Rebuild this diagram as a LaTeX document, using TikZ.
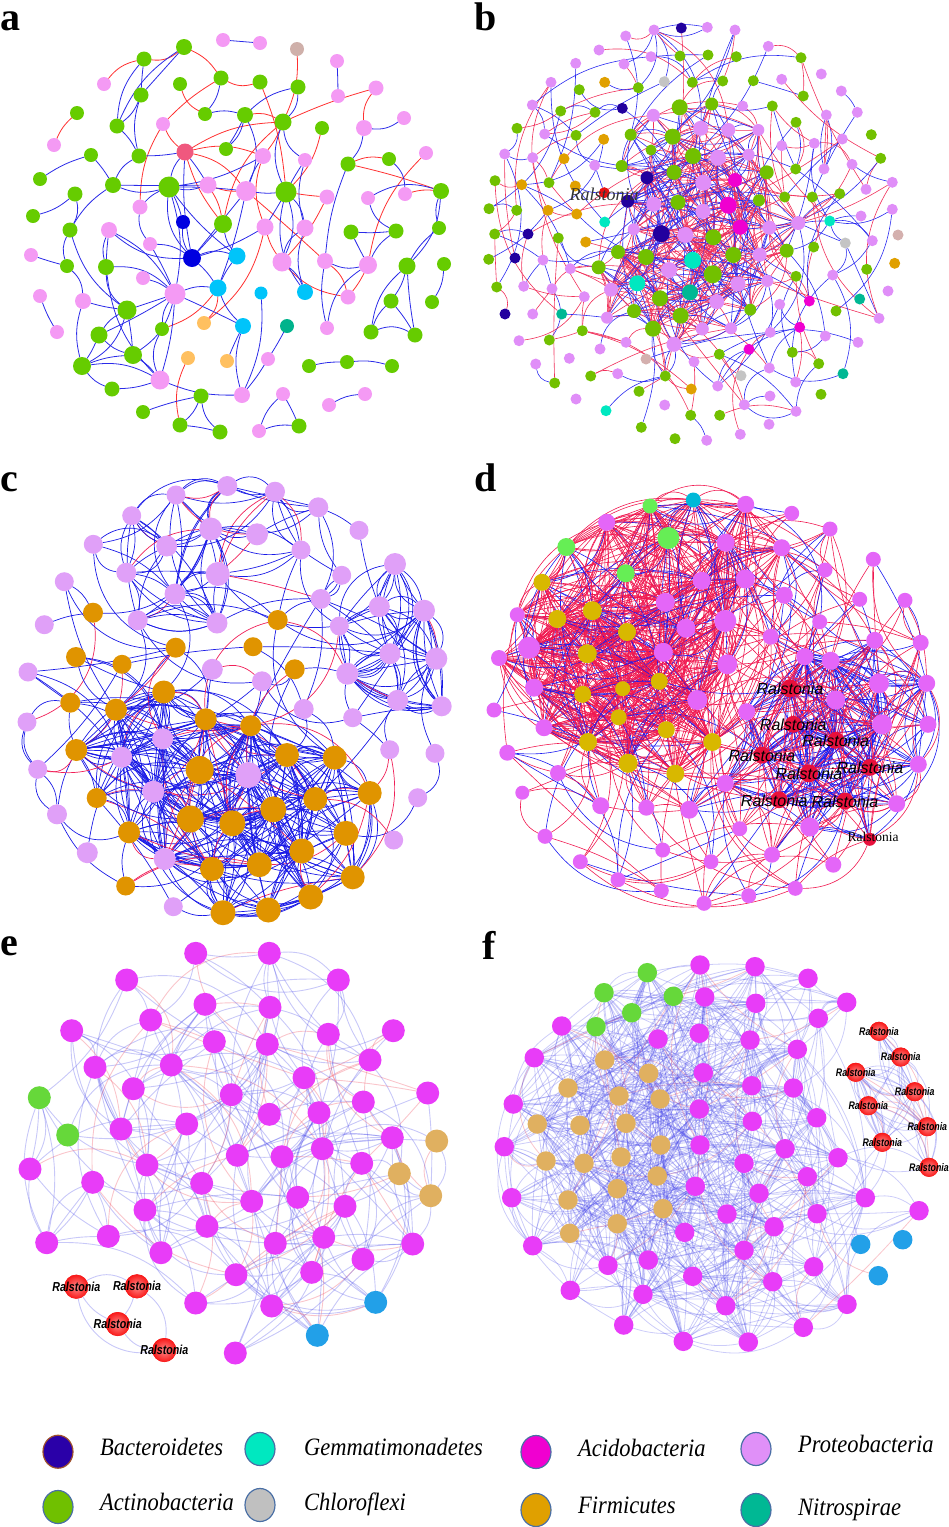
\documentclass[tikz,border=0pt]{standalone}
\usepackage{fontspec}
\usepackage{graphicx}
\setmainfont{Liberation Serif}
\newfontfamily\lsans{Liberation Sans}
\usetikzlibrary{shapes.geometric}
\pgfdeclarelayer{background}
\pgfsetlayers{background,main}
% panel a
\definecolor{aG}{HTML}{66CC00}\definecolor{aP}{HTML}{F49AF4}\definecolor{aR}{HTML}{F0587E}
\definecolor{aT}{HTML}{CFB0AA}\definecolor{aD}{HTML}{0000E0}\definecolor{aC}{HTML}{00C4FA}
\definecolor{aO}{HTML}{FFC060}\definecolor{aN}{HTML}{00B38C}
\definecolor{ar}{HTML}{FF3030}\definecolor{ab}{HTML}{2A2AE8}
% panel b
\definecolor{bG}{HTML}{72C000}\definecolor{bL}{HTML}{E08EF8}\definecolor{bI}{HTML}{22009E}
\definecolor{bO}{HTML}{E0A000}\definecolor{bY}{HTML}{C4C4C4}\definecolor{bC}{HTML}{00E8C0}
\definecolor{bM}{HTML}{F000D0}\definecolor{bN}{HTML}{00B894}\definecolor{bT}{HTML}{D4B0AE}
\definecolor{bR}{HTML}{E81010}
\definecolor{bRe}{HTML}{F0305A}\definecolor{bBe}{HTML}{2A2AF0}
% panel c
\definecolor{cL}{HTML}{E0A0F8}\definecolor{cO}{HTML}{E09400}
\definecolor{cRe}{HTML}{F02058}\definecolor{cBe}{HTML}{1A1AE6}
% panel d
\definecolor{dV}{HTML}{E466F8}\definecolor{dG}{HTML}{66EE55}\definecolor{dC}{HTML}{00B8D8}
\definecolor{dY}{HTML}{D8B800}\definecolor{dR}{HTML}{E8103C}
\definecolor{dRe}{HTML}{F01850}\definecolor{dBe}{HTML}{1A1AF0}
% panels e f
\definecolor{eM}{HTML}{E83CF8}\definecolor{eG}{HTML}{66D83A}\definecolor{eT}{HTML}{E0B060}
\definecolor{eB}{HTML}{22A0E8}\definecolor{eRc}{HTML}{F81818}\definecolor{eRi}{HTML}{FF8A8A}
\definecolor{eRe}{HTML}{F05A6A}\definecolor{eBe}{HTML}{4848E8}
% legend
\definecolor{lBac}{HTML}{2A00A8}\definecolor{lGem}{HTML}{00E8C0}\definecolor{lAci}{HTML}{F000D0}
\definecolor{lPro}{HTML}{E090F8}\definecolor{lAct}{HTML}{70C000}\definecolor{lChl}{HTML}{C0C0C0}
\definecolor{lFir}{HTML}{E0A000}\definecolor{lNit}{HTML}{00B894}\definecolor{lBor}{HTML}{4A6FA5}
\definecolor{lBrn}{HTML}{A0522D}

\newcount\ndc
\newdimen\rdx \newdimen\rdy
\newcommand\placenodes[2]{%
  \foreach \x/\y/\cc/\sz in {#2}{%
    \global\advance\ndc by 1\relax
    \edef\nn{#1\the\ndc}%
    \node[nd,fill=\cc,minimum size=\sz] (\nn) at (\x,\y) {};
  }}
\newcommand\placeuni[3]{%
  \foreach \x/\y/\cc in {#3}{%
    \global\advance\ndc by 1\relax
    \edef\nn{#1\the\ndc}%
    \node[nd,fill=\cc,minimum size=#2] (\nn) at (\x,\y) {};
  }}
\makeatletter
\newcommand\randedges[7]{%
  \foreach \k in {1,...,#4}{%
    \pgfmathrandominteger{\ii}{#2}{#3}%
    \pgfmathrandominteger{\jj}{#2}{#3}%
    \ifnum\ii=\jj\relax\else
      \pgfpointdiff{\pgfpointanchor{#1\ii}{center}}{\pgfpointanchor{#1\jj}{center}}%
      \global\rdx=\pgf@x\relax \global\rdy=\pgf@y\relax
      \pgfmathveclen{\rdx}{\rdy}%
      \ifdim\pgfmathresult pt<#5pt\relax
        \pgfmathrandominteger{\rr}{0}{99}%
        \pgfmathrandominteger{\bb}{-#7}{#7}%
        \ifnum\rr<#6\relax
          \draw[#1red] (#1\ii) to[bend left=\bb] (#1\jj);%
        \else
          \draw[#1blue] (#1\ii) to[bend left=\bb] (#1\jj);%
        \fi
      \fi
    \fi
  }}
\makeatother

\tikzset{
  nd/.style={circle, inner sep=0pt, outer sep=0pt, draw=none},
  aedge/.style={line width=0.8pt},
  bred/.style={draw=bRe, line width=0.6pt},
  bblue/.style={draw=bBe, line width=0.6pt},
  cred/.style={draw=cRe, line width=0.7pt},
  cblue/.style={draw=cBe, line width=0.7pt},
  dred/.style={draw=dRe, line width=0.6pt},
  dblue/.style={draw=dBe, line width=0.6pt},
  ered/.style={draw=eRe, line width=0.9pt, draw opacity=0.35},
  eblue/.style={draw=eBe, line width=0.9pt, draw opacity=0.3},
  fred/.style={draw=eRe, line width=0.8pt, draw opacity=0.35},
  fblue/.style={draw=eBe, line width=0.8pt, draw opacity=0.28},
  rball/.style={circle, inner sep=0pt, shading=radial, inner color=eRi, outer color=eRc},
  plab/.style={anchor=base west, inner sep=0pt, font=\fontsize{40}{40}\selectfont\bfseries},
  legtext/.style={anchor=base west, inner sep=0pt, font=\fontsize{25}{25}\selectfont\itshape},
  legdot/.style={ellipse, minimum width=30pt, minimum height=33pt, inner sep=0pt, draw=lBor, line width=1.2pt},
  ralb/.style={inner sep=0pt, font=\fontsize{18}{18}\selectfont\itshape, text=black!80},
  rald/.style={inner sep=0pt, font=\lsans\fontsize{16}{16}\selectfont\itshape},
  ralds/.style={inner sep=0pt, font=\fontsize{13.5}{13.5}\selectfont},
  rale/.style={inner sep=0pt, font=\lsans\fontsize{13}{13}\selectfont\bfseries\itshape},
  ralf/.style={inner sep=0pt, font=\lsans\fontsize{11}{11}\selectfont\bfseries\itshape},
}

\begin{document}
\begin{tikzpicture}[x=1pt,y=-1pt]
\useasboundingbox (0,0) rectangle (949,1527);
\pgfmathsetseed{4242}

%================ PANEL A ================
\global\ndc=0
\placenodes{a}{184/47/aG/16, 223/40/aP/14, 260/43/aP/14, 297/49/aT/14, 144/59/aG/15, 337/61/aP/14,
 104/84/aP/14, 180/84/aG/14, 221/78/aG/15, 260/82/aG/15, 298/87/aG/15, 338/96/aP/14, 376/88/aP/15,
 141/95/aG/15, 77/113/aG/14, 117/126/aG/15, 163/124/aP/14, 205/114/aG/14, 245/115/aG/16, 283/122/aG/17,
 322/128/aG/14, 364/128/aP/16, 404/118/aP/14, 54/145/aP/14, 91/155/aG/14, 139/156/aG/15, 185/152/aR/17,
 226/149/aG/14, 263/156/aP/16, 305/160/aP/14, 348/164/aG/15, 389/159/aG/14, 426/153/aP/14, 40/179/aG/14,
 113/185/aG/16, 169/187/aG/21, 208/185/aP/17, 246/191/aP/20, 286/192/aG/21, 327/197/aP/15, 368/198/aP/14,
 405/194/aP/14, 441/191/aG/16, 75/194/aG/15, 33/216/aG/14, 140/207/aP/15, 183/222/aD/14, 223/224/aG/18,
 265/227/aP/17, 305/228/aP/17, 351/232/aG/15, 396/231/aG/15, 439/228/aG/14, 70/230/aG/15, 109/230/aP/16,
 150/244/aP/14, 192/258/aD/18, 237/256/aC/17, 282/262/aP/19, 325/261/aP/16, 368/265/aP/18, 407/266/aG/17,
 444/264/aG/14, 31/255/aP/14, 67/266/aG/14, 106/267/aG/16, 143/278/aP/14, 175/294/aP/21, 218/288/aC/17,
 261/293/aC/13, 305/292/aC/16, 348/297/aP/15, 391/301/aG/15, 432/302/aG/14, 40/296/aP/14, 83/301/aP/16,
 127/310/aG/19, 162/329/aG/14, 204/323/aO/14, 243/326/aC/16, 287/326/aN/14, 327/328/aP/14, 371/332/aG/15,
 415/335/aG/15, 57/332/aP/14, 99/335/aG/17, 133/355/aG/18, 188/358/aO/14, 227/361/aO/14, 268/359/aP/14,
 309/366/aG/14, 347/362/aG/14, 392/366/aG/14, 82/366/aG/18, 160/380/aP/19, 112/389/aG/15, 242/395/aP/16,
 283/394/aP/14, 365/394/aP/14, 329/405/aP/14, 201/396/aG/15, 143/412/aG/14, 180/425/aG/15, 220/432/aG/15,
 259/431/aP/14, 299/426/aG/15}
\begin{pgfonlayer}{background}
\foreach \i/\j/\t in {5/1/ar,7/5/ar,15/24/ar,1/9/ar,9/10/ar,4/20/ar,13/20/ar,13/22/ar,17/9/ar,27/29/ar,
 27/38/ar,27/48/ar,27/20/ar,10/39/ar,20/48/ar,21/39/ar,33/61/ar,31/32/ar,42/43/ar,31/43/ar,39/40/ar,
 40/59/ar,38/60/ar,59/72/ar,60/72/ar,69/79/ar,78/69/ar,88/103/ar,37/48/ar,61/72/ar,49/59/ar,17/46/ar,
 8/18/ar,27/17/ar,29/49/ar,79/49/ar,37/38/ar,20/29/ar,19/20/ar,
 2/3/ab,6/12/ab,34/25/ab,45/44/ab,5/16/ab,5/14/ab,1/16/ab,1/14/ab,14/16/ab,14/26/ab,16/26/ab,26/27/ab,
 9/18/ab,18/19/ab,19/11/ab,19/28/ab,19/38/ab,22/23/ab,22/31/ab,26/35/ab,35/36/ab,35/54/ab,35/37/ab,
 36/37/ab,36/47/ab,36/57/ab,36/58/ab,36/68/ab,36/46/ab,27/36/ab,27/37/ab,27/57/ab,29/38/ab,29/36/ab,
 38/39/ab,38/57/ab,38/69/ab,39/49/ab,39/50/ab,39/59/ab,30/50/ab,31/60/ab,51/52/ab,51/61/ab,52/61/ab,
 41/52/ab,43/62/ab,53/62/ab,62/73/ab,62/83/ab,62/84/ab,73/83/ab,73/84/ab,83/84/ab,63/74/ab,50/59/ab,
 50/71/ab,59/71/ab,60/61/ab,60/82/ab,61/82/ab,54/65/ab,54/77/ab,55/57/ab,55/66/ab,56/57/ab,55/68/ab,
 56/68/ab,64/65/ab,66/77/ab,66/68/ab,66/95/ab,67/68/ab,68/69/ab,68/77/ab,68/86/ab,68/87/ab,68/95/ab,
 68/80/ab,75/85/ab,76/77/ab,76/94/ab,77/86/ab,77/87/ab,77/94/ab,86/94/ab,87/94/ab,86/87/ab,87/95/ab,
 94/96/ab,94/95/ab,96/95/ab,57/69/ab,57/58/ab,58/69/ab,69/80/ab,80/97/ab,80/89/ab,81/90/ab,90/97/ab,
 91/92/ab,92/93/ab,99/100/ab,98/105/ab,98/106/ab,105/106/ab,101/102/ab,101/103/ab,101/104/ab,103/104/ab,
 95/97/ab,70/97/ab,57/48/ab,47/57/ab,28/19/ab,20/39/ab,39/71/ab,49/57/ab,48/58/ab,32/42/ab,41/43/ab,
 53/43/ab,35/25/ab,44/54/ab,65/76/ab,66/55/ab,78/68/ab,78/95/ab,36/38/ab,46/56/ab,20/30/ab,30/39/ab,11/20/ab}{
  \pgfmathtruncatemacro\bb{mod(\i*37+\j*17,50)-25}
  \draw[aedge,draw=\t] (a\i) to[bend left=\bb] (a\j);
}
\end{pgfonlayer}

%================ PANEL B ================
\global\ndc=0
\placenodes{b}{679.7/107.3/bG/16, 711.7/104/bG/13, 653.3/115.3/bL/13, 672.7/136.7/bG/16, 700.7/128.3/bL/15,
 728.3/130/bL/14, 758.3/130/bL/12, 693/156/bG/16, 718/157.7/bL/16, 748.7/154.7/bL/12, 674/172.3/bG/15,
 703.3/182.7/bL/16, 735/180/bM/14, 766.7/172.3/bG/14, 647/177.7/bI/13, 627.7/201.3/bI/13, 653.7/204.3/bL/15,
 678/202.3/bG/15, 703/211.3/bL/15, 728.3/205.3/bM/17, 759/200.3/bG/12, 633.7/229.3/bL/12, 661.3/233.7/bI/17,
 685.3/235/bL/16, 713.3/237.3/bG/16, 740.3/227.3/bM/15, 769.3/227.7/bL/14, 618/252/bG/14, 646/257/bG/16,
 692.7/260.3/bC/17, 669/270/bL/16, 712.7/274.3/bG/18, 733.3/255/bG/16, 759.7/254.7/bL/14, 786.7/250.7/bG/14,
 611/289.7/bL/14, 637.3/283.3/bC/16, 660/298.3/bG/16, 690/292.3/bN/16, 716.7/301.7/bL/15, 738/284/bL/15,
 767.3/281/bL/12, 598.7/267.3/bG/14, 634/311/bG/14, 653/328.7/bG/16, 680.7/315.7/bG/16, 702.3/329/bL/13,
 674/344.3/bL/15, 607/317.7/bL/12, 731/328.3/bL/12, 750.3/309.7/bG/12, 798.3/223/bL/14, 651/150/bG/11,
 630.7/134.7/bG/12, 621.7/166/bG/12}
\xdef\bK{\the\ndc}
\placeuni{b}{11}{681.3/28/bI, 707.3/27.3/bL, 735/30/bL, 654/30/bL, 625.7/36/bL, 599/50/bL, 768.3/46.3/bL,
 680/56/bG, 708/55/bG, 736.3/56.7/bG, 651/56.7/bL, 624/64/bL, 575.7/63.3/bL, 801/57.7/bG, 821.3/74/bL,
 551/82.3/bL, 579.3/89.7/bG, 604.7/82.3/bO, 638.3/87.7/bG, 664.3/81.7/bY, 692.3/82.3/bG, 722.7/81/bG,
 753.3/80.7/bG, 781.7/79.3/bL, 841.3/91/bL, 803.3/96/bG, 532.3/105/bL, 560.7/111/bG, 595/112.3/bG,
 622.3/108.3/bI, 742.7/106/bL, 772.3/106/bG, 826.3/115/bL, 857.3/112.3/bL, 796/122.3/bG, 517/128.3/bG,
 544.7/134/bL, 576/135.3/bG, 603.7/139.3/bO, 781.7/145.7/bL, 814.3/143.3/bL, 842.3/139/bL, 871.3/134.7/bG,
 504.7/154/bL, 532.7/157.7/bL, 564/158.7/bO, 594.7/165.3/bL, 795.7/169/bG, 824/169/bL, 852/164.3/bL,
 880.7/158.3/bG, 495/180.7/bG, 521.7/184.7/bO, 549/182.7/bG, 575.3/186/bO, 604.3/192.7/bR, 866/189.3/bL,
 892.3/182.3/bL, 489/208.7/bG, 516.7/210.3/bG, 548/210.3/bO, 576.7/214/bO, 784.7/197/bG, 812.3/197/bG,
 839.7/193.7/bG, 861/216/bL, 892.3/209.3/bL, 494.7/234/bG, 528/234/bI, 558.3/238/bG, 585.7/242/bO,
 604.7/222/bC, 829.7/221/bC, 845.3/243/bY, 872.3/240.7/bL, 898/235/bT, 488.7/259.3/bG, 515/258/bI,
 543/260/bL, 570.3/268.7/bL, 813.7/247/bG, 894.7/263.3/bO, 866.7/269.3/bG, 496.7/287/bG, 523.7/286.3/bL,
 552/288.7/bL, 584.3/296.7/bL, 796/276.3/bG, 832.7/275/bL, 809.3/301/bM, 859.7/299/bN, 888/291/bL,
 505/314/bI, 532.7/314/bL, 561.7/314/bN, 779.7/304.3/bL, 770.3/332.3/bL, 836/311/bG, 799.7/327.3/bM,
 879/318.3/bL, 825.3/336/bL, 519/340.7/bL, 549.3/340/bG, 582.3/330.7/bG, 600/349/bL, 626/342.3/bL,
 646/359/bT, 719.3/354.3/bG, 749/349.3/bM, 792.3/352.3/bG, 858/342.3/bL, 569.3/358.3/bL, 535.7/364/bL,
 554.7/383/bG, 590.7/376/bG, 617.7/373.7/bL, 665.3/376/bG, 694/361.7/bL, 741/375.7/bY, 769.3/368/bL,
 717.7/386/bL, 795.7/382/bL, 818.7/363.7/bG, 843/373.7/bN, 576/399/bL, 606/410.7/bC, 639/391.3/bG,
 664.7/405/bL, 691.3/389/bO, 690.7/415.3/bG, 719.7/415.3/bG, 744.3/404.7/bL, 770/396/bL, 796/411.3/bL,
 821/394.3/bG, 641.3/427.3/bG, 675/438.7/bG, 706.7/440.3/bL, 740.3/434.3/bL, 769/424.3/bL}
\xdef\bN{\the\ndc}
\begin{pgfonlayer}{background}
\randedges{b}{1}{\bK}{750}{115}{62}{30}
\randedges{b}{1}{\bN}{2500}{55}{45}{35}
\randedges{b}{1}{\bN}{450}{150}{50}{30}
\end{pgfonlayer}
\node[ralb] (ralB) at (604,194) {Ralstonia};

%================ PANEL C ================
\global\ndc=0
\placenodes{c}{199.7/770/cO/28, 248.3/775/cL/26, 287/755/cO/24, 334.7/757.7/cO/24, 369.7/793/cO/24,
 315.3/799/cO/24, 273.3/809.3/cO/26, 232.3/823.3/cO/26, 190.3/819/cO/27, 346/833.3/cO/25, 301.7/851/cO/25,
 259.3/864.7/cO/25, 212/869/cO/24, 352.7/877.3/cO/24, 310.7/897/cO/25, 268.3/910/cO/25, 223/912.7/cO/25,
 250.7/725.7/cO/21, 205.7/719.3/cO/22, 153.3/791.7/cL/22, 129/832.3/cO/22, 164.7/859/cL/22,
 162.7/738.7/cL/21, 121.7/757.3/cL/21, 76.3/750/cO/22, 163.7/692/cO/23, 96.7/798/cO/20, 116/709.7/cO/22}
\xdef\cA{\the\ndc}
\placenodes{c}{227.3/486/cL/20, 275/491.7/cL/20, 176/495/cL/19, 318.3/507.3/cL/20, 131.7/515.7/cL/19,
 210.7/529/cL/23, 257/534.3/cL/22, 93.3/544.3/cL/19, 166.7/546/cL/21, 301/550/cL/19, 126.3/572.7/cL/20,
 217.7/574/cL/24, 175/594/cL/21, 137.7/620.3/cL/20, 217/623/cL/21, 64.3/581.7/cL/19, 341.7/575.3/cL/19,
 320.7/599/cL/20}
\xdef\cB{\the\ndc}
\placenodes{c}{395/564/cL/22, 379.3/606.7/cL/21, 424/610.7/cL/22, 390/653.7/cL/21, 436.3/658.7/cL/22,
 347.3/673.7/cL/22, 397.7/700.3/cL/21, 441.7/706.3/cL/20, 339.3/626/cL/19}
\xdef\cC{\the\ndc}
\placenodes{c}{359/530.3/cL/19, 93/612.7/cO/20, 277.7/620/cO/20, 44.3/624.7/cL/19, 175.7/647.7/cO/20,
 253/646.7/cO/19, 76/657/cO/20, 122/664.3/cO/19, 212.3/669.3/cL/21, 294.7/669.3/cO/20, 262/681.3/cL/20,
 28/672/cL/19, 70.3/702.7/cO/20, 303.7/709/cL/20, 352.7/717.7/cL/19, 27/722/cL/19, 389.7/749.7/cL/19,
 435/753.3/cL/19, 37.7/769.3/cL/19, 417.7/797.7/cL/19, 57/814.3/cL/20, 393.7/840/cL/19, 87.3/852.7/cL/21,
 125.7/886/cO/19, 173.3/906.7/cL/19}
\xdef\cN{\the\ndc}
\pgfmathtruncatemacro\cAp{\cA+1}
\pgfmathtruncatemacro\cBp{\cB+1}
\begin{pgfonlayer}{background}
\randedges{c}{1}{\cA}{600}{140}{10}{40}
\randedges{c}{\cAp}{\cB}{130}{120}{8}{40}
\randedges{c}{\cBp}{\cC}{75}{100}{0}{40}
\randedges{c}{1}{\cN}{380}{150}{15}{40}
\randedges{c}{1}{\cN}{500}{58}{10}{35}
\end{pgfonlayer}

%================ PANEL D ================
\global\ndc=0
\placenodes{d}{650/506/dG/15, 693.3/500/dC/15, 745.7/504.3/dV/17, 606.7/522.3/dV/17, 668.3/538/dG/22,
 725.7/542.7/dV/18, 781.7/547.7/dV/17, 566.3/547/dG/18, 625.7/573.3/dG/18, 542/582.3/dY/17,
 701.7/580.7/dV/18, 745.3/579/dV/19, 665.3/602.3/dV/19, 557.3/619/dY/18, 592.3/610.7/dY/19,
 686/628.3/dV/19, 725.3/621/dV/22, 627/632/dY/18, 529/647.7/dV/22, 587.3/653.7/dY/19, 663.3/652.3/dV/19,
 727.3/664.3/dV/20, 659.3/681.3/dY/17, 622.7/688.7/dY/15, 534/687.7/dV/18, 582.7/694.3/dY/17,
 697.3/700/dV/20, 618.7/717.3/dY/16, 666.3/729.7/dY/17, 588/742/dY/18, 628/763.3/dY/19, 675.3/773.7/dY/18,
 712.3/742/dY/18, 544/727.7/dV/17, 517.3/614.7/dV/15, 499/658/dV/16}
\xdef\dA{\the\ndc}
\placenodes{d}{790/688.3/dR/18, 793.3/724.3/dR/17, 835.7/740.3/dR/17, 762/755/dR/17, 870/767.3/dR/17,
 809/773.3/dR/18, 779/799.7/dR/17, 845/801/dR/17, 746.7/711.7/dV/17, 835.7/700/dV/19, 879/683.3/dV/20,
 882/724.3/dV/20, 804.7/656.7/dV/17, 830.7/660.7/dV/18, 874.7/640.3/dV/17, 926.7/683.3/dV/17,
 928/724.3/dV/17, 918.3/764.3/dV/17, 896.7/803.7/dV/17, 809.7/827/dV/19, 725.3/783.3/dV/17, 869.7/839.3/dR/13}
\xdef\dB{\the\ndc}
\placenodes{d}{791.7/513.3/dV/15, 830/529/dV/15, 825/570/dV/15, 873.3/559.3/dV/15, 784.3/595.3/dV/17,
 859.7/599.3/dV/15, 905/600.3/dV/15, 819.7/621.7/dV/15, 770.7/636.7/dV/16, 920.7/642.7/dV/16, 494/710/dV/15,
 507.3/752.7/dV/16, 558/773/dV/16, 522.3/792.7/dV/14, 600.7/805.7/dV/17, 646.3/807.7/dV/16,
 689.3/809.7/dV/18, 739.7/828.7/dV/15, 545/836.3/dV/15, 662.7/850/dV/15, 772/854.7/dV/16, 711/861.7/dV/15,
 833.3/864.7/dV/16, 580.3/861.7/dV/15, 618/879.7/dV/15, 661.3/890.7/dV/15, 795.3/888.3/dV/15,
 704/903.3/dV/15, 748.7/895.7/dV/15}
\xdef\dN{\the\ndc}
\pgfmathtruncatemacro\dAp{\dA+1}
\begin{pgfonlayer}{background}
\randedges{d}{1}{\dA}{950}{170}{85}{40}
\randedges{d}{\dAp}{\dB}{420}{125}{30}{40}
\randedges{d}{1}{\dN}{700}{210}{75}{40}
\end{pgfonlayer}
\node[rald] at (790,688.3) {Ralstonia};
\node[rald] at (793.3,725) {Ralstonia};
\node[rald] at (835.7,741) {Ralstonia};
\node[rald] at (762,756) {Ralstonia};
\node[rald] at (870,767.3) {Ralstonia};
\node[rald] at (809,774) {Ralstonia};
\node[rald] at (774.3,800.3) {Ralstonia};
\node[rald] at (845,801.7) {Ralstonia};
\node[ralds] at (873,837.3) {Ralstonia};

%================ PANEL E ================
\global\ndc=0
\placeuni{e}{23}{195.7/953.3/eM, 269.3/953.3/eM, 126.7/980/eM, 338.3/980/eM, 205/1004.3/eM, 270/1007.3/eM,
 150.7/1020/eM, 71.7/1030.7/eM, 214.3/1041.7/eM, 267.3/1044.3/eM, 328.3/1034.3/eM, 393.3/1030.7/eM,
 95/1067.3/eM, 171.3/1065/eM, 370/1060/eM, 304/1077.7/eM, 133.3/1088.7/eM, 39.3/1097.7/eG, 231.3/1094.7/eM,
 427.7/1093/eM, 269.3/1114.3/eM, 319/1112.7/eM, 363.3/1102/eM, 186.7/1124/eM, 121/1129/eM, 67.7/1135/eG,
 392.3/1137.7/eM, 436.7/1141/eT, 237.3/1155.3/eM, 282/1156.7/eM, 322.3/1148.7/eM, 361.7/1163.3/eM,
 30/1169/eM, 147/1165/eM, 399.3/1173.7/eT, 92.7/1182.3/eM, 201.7/1183.3/eM, 251.7/1201.3/eM,
 297.7/1197.3/eM, 345/1206.3/eM, 430.7/1195.7/eT, 145/1210/eM, 207/1226.3/eM, 46.7/1242.7/eM,
 108.3/1236.3/eM, 161/1252.7/eM, 275.3/1243.3/eM, 323.7/1237.3/eM, 412.7/1244/eM, 363/1259.3/eM,
 236/1274.7/eM, 311.7/1272.3/eM, 375.7/1302.3/eB, 195.7/1303/eM, 271.7/1306/eM, 317.3/1335.3/eB,
 235.3/1353/eM}
\xdef\eA{\the\ndc}
\placeuni{e}{24}{76.3/1286.7/eRc, 137/1286.3/eRc, 117.7/1324/eRc, 164.3/1350/eRc}
\begin{pgfonlayer}{background}
\randedges{e}{1}{\eA}{650}{175}{22}{35}
\draw[eblue] (e58) to[bend left=30] (e59);
\draw[eblue] (e58) to[bend left=-15] (e60);
\draw[eblue] (e59) to[bend left=10] (e60);
\draw[eblue] (e59) to[bend left=30] (e61);
\draw[eblue] (e58) to[bend left=-45] (e61);
\draw[eblue] (e60) to[bend left=-25] (e61);
\end{pgfonlayer}
\foreach \x/\y in {76.3/1286.7, 137/1286.3, 117.7/1324, 164.3/1350}{
  \node[rball, minimum size=24] at (\x,\y) {};
  \node[rale] at (\x,\y) {\scalebox{0.82}[1]{Ralstonia}};
}

%================ PANEL F ================
\global\ndc=0
\placeuni{f}{19.5}{700/965/eM, 755/966.7/eM, 808/978.3/eM, 647.3/972.7/eG, 673.3/996.3/eG, 604/992.7/eG,
 631.7/1012.7/eG, 596/1026.7/eG, 704.7/997/eM, 755.7/1003.3/eM, 846.7/1002.3/eM, 561.7/1026/eM, 658/1039/eM,
 699.3/1033.3/eM, 750/1040/eM, 818.3/1018.3/eM, 797.3/1049.3/eM, 534.3/1057.7/eM, 604.7/1060/eT,
 648.7/1073.3/eT, 703.3/1072.7/eM, 751.7/1085.7/eM, 793.3/1088/eM, 568/1088/eT, 619/1096/eT, 660/1099/eT,
 513.3/1104/eM, 699.3/1109/eM, 752.3/1121.3/eM, 816.7/1117.7/eM, 537.3/1124/eT, 580/1125.3/eT,
 626/1123.3/eT, 660.7/1145/eT, 700/1145/eM, 504.3/1146.7/eM, 785/1148.7/eM, 838/1157.7/eM, 546/1161/eT,
 584/1163.3/eT, 621/1157/eT, 657.3/1176/eT, 744/1163.3/eM, 807.3/1176.7/eM, 617.3/1188.7/eT,
 695.3/1186.3/eM, 759/1193.3/eM, 511.7/1197.7/eM, 568/1200/eT, 663/1208.7/eT, 727/1214/eM, 817/1213.7/eM,
 865.3/1197.7/eM, 919/1210.7/eM, 617.3/1223.7/eT, 569.7/1233.3/eT, 774/1226.7/eM, 684.7/1232.3/eM,
 532.7/1245.7/eM, 744/1250.3/eM, 608/1265.3/eM, 648.3/1260/eM, 692.7/1276.3/eM, 813.7/1266.7/eM,
 772.7/1281.7/eM, 570.3/1290.3/eM, 643/1294.3/eM, 725.7/1305.7/eM, 847/1304.3/eM, 623.7/1325/eM,
 803.3/1327.3/eM, 683.3/1341.3/eM, 748.3/1342/eM, 860.7/1244.3/eB, 902.7/1239.7/eB, 878.3/1275.7/eB}
\xdef\fA{\the\ndc}
\placeuni{f}{19}{879/1031.3/eRc, 900.7/1057/eRc, 855.7/1072.3/eRc, 914.7/1091.7/eRc, 868.3/1105.7/eRc,
 927.3/1126.7/eRc, 882.3/1142.3/eRc, 929/1167.3/eRc}
\xdef\fN{\the\ndc}
\pgfmathtruncatemacro\fAp{\fA+1}
\begin{pgfonlayer}{background}
\randedges{f}{1}{73}{1500}{190}{4}{40}
\randedges{f}{\fAp}{\fN}{80}{110}{20}{40}
\randedges{f}{1}{\fN}{350}{130}{15}{40}
\end{pgfonlayer}
\foreach \x/\y in {879/1031.3, 900.7/1057, 855.7/1072.3, 914.7/1091.7, 868.3/1105.7, 927.3/1126.7, 882.3/1142.3, 929/1167.3}{
  \node[rball, minimum size=19] at (\x,\y) {};
  \node[ralf] at (\x,\y) {\scalebox{0.8}[1]{Ralstonia}};
}

%================ PANEL LABELS ================
\node[plab] (la) at (0,30) {a};
\node[plab] (lb) at (474,30) {b};
\node[plab] (lc) at (0,491) {c};
\node[plab] (ld) at (474,491) {d};
\node[plab] (le) at (0,955) {e};
\node[plab] (lf) at (482,959) {f};

%================ LEGEND ================
\node[legdot, fill=lBac, draw=lBrn] (lg1) at (58,1451.7) {};
\node[legdot, fill=lGem] (lg2) at (260,1449) {};
\node[legdot, fill=lAci] (lg3) at (536,1452) {};
\node[legdot, fill=lPro] (lg4) at (756,1449) {};
\node[legdot, fill=lAct] (lg5) at (58,1507) {};
\node[legdot, fill=lChl] (lg6) at (260,1505) {};
\node[legdot, fill=lFir] (lg7) at (536,1510) {};
\node[legdot, fill=lNit] (lg8) at (756,1510) {};
\node[legtext] (lt1) at (100,1455) {\scalebox{0.9}[1]{Bacteroidetes}};
\node[legtext] (lt2) at (304,1455) {\scalebox{0.9}[1]{Gemmatimonadetes}};
\node[legtext] (lt3) at (578,1456) {\scalebox{0.9}[1]{Acidobacteria}};
\node[legtext] (lt4) at (798,1452) {\scalebox{0.9}[1]{Proteobacteria}};
\node[legtext] (lt5) at (100,1510) {\scalebox{0.9}[1]{Actinobacteria}};
\node[legtext] (lt6) at (304,1510) {\scalebox{0.9}[1]{Chloroflexi}};
\node[legtext] (lt7) at (578,1513) {\scalebox{0.9}[1]{Firmicutes}};
\node[legtext] (lt8) at (798,1515) {\scalebox{0.9}[1]{Nitrospirae}};
\end{tikzpicture}
\end{document}
